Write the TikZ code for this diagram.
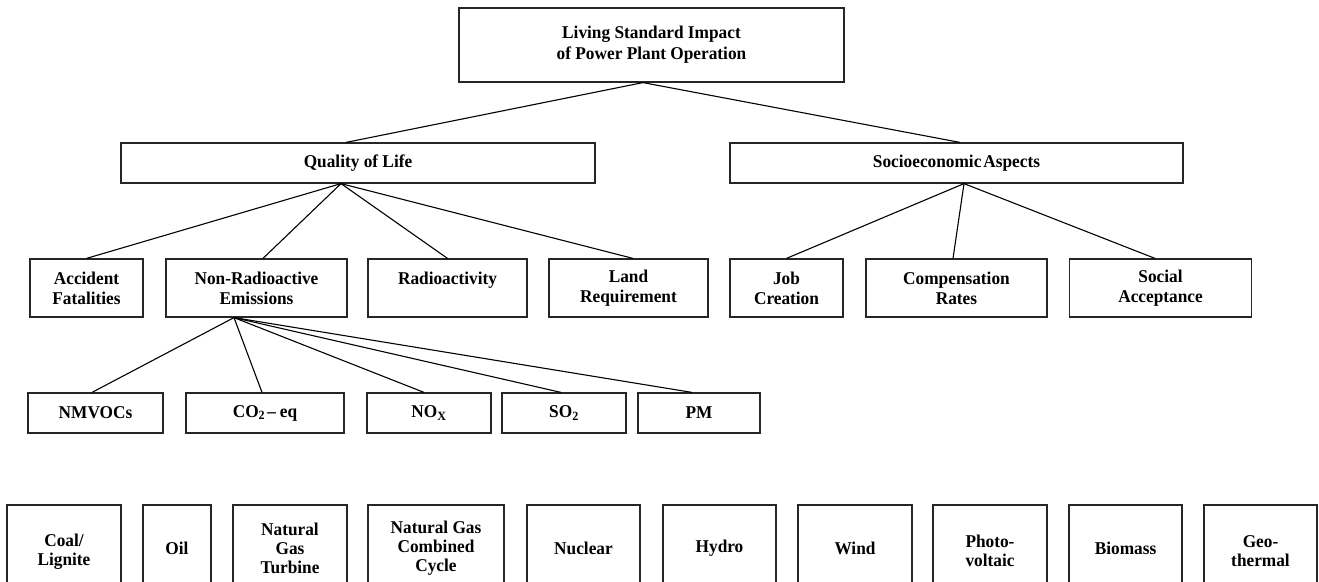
\documentclass[tikz,border=0pt]{standalone}
\usepackage{fontspec}
\setmainfont{Liberation Serif}[FakeStretch=0.96]
\begin{document}
\begin{tikzpicture}[x=1pt,y=-1pt,
  box/.style={draw=black!85, line width=1.2pt, rectangle, inner sep=0pt, align=center,
    font=\fontsize{18}{20}\selectfont\bfseries},
  tallbox/.style={box, font=\fontsize{18}{19}\selectfont\bfseries},
  link/.style={draw=black, line width=1.1pt}]
\useasboundingbox (0,0) rectangle (1319,581);
\fill[white] (0,0) rectangle (1319,581);
\clip (0,0) rectangle (1319,581);

% level 0
\node[box, minimum width=385pt, minimum height=74pt, font=\fontsize{18}{21}\selectfont\bfseries] (top) at (651.5,45)
  {Living Standard Impact\\of Power Plant Operation};
% level 1
\node[box, minimum width=474pt, minimum height=40pt] (qol) at (358,163) {Quality of Life};
\node[box, minimum width=453pt, minimum height=40pt] (soc) at (956.5,163) {Socioeconomic\kern2pt Aspects};
% level 2
\node[box, minimum width=113pt, minimum height=58pt] (acc) at (86.5,288) {Accident\\Fatalities};
\node[box, minimum width=181pt, minimum height=58pt] (nonrad) at (256.5,288) {Non-Radioactive\\Emissions};
\node[box, minimum width=159pt, minimum height=58pt] (radio) at (447.5,288) {Radioactivity\\\mbox{}};
\node[box, minimum width=159pt, minimum height=58pt] (land) at (628.5,288) {Land\\Requirement};
\node[box, minimum width=113pt, minimum height=58pt] (job) at (786.5,288) {Job\\Creation};
\node[box, minimum width=181pt, minimum height=58pt] (comp) at (956.5,288) {Compensation\\Rates};
\node[box, minimum width=182pt, minimum height=58pt] (social) at (1160.5,288) {Social\\Acceptance};
% level 3
\node[box, minimum width=135pt, minimum height=40pt] (nmvoc) at (95.5,413) {NMVOCs};
\node[box, minimum width=158pt, minimum height=40pt] (co2) at (265,413) {CO\textsubscript{2}\kern2pt--\kern4pt eq};
\node[box, minimum width=124pt, minimum height=40pt] (nox) at (429,413) {NO\textsubscript{X}};
\node[box, minimum width=124pt, minimum height=40pt] (so2) at (564,413) {SO\textsubscript{2}};
\node[box, minimum width=122pt, minimum height=40pt] (pm) at (699,413) {PM};
% technologies
\node[tallbox, minimum width=114pt, minimum height=86pt] (coal) at (64,548) {\mbox{}\\Coal/\\Lignite};
\node[tallbox, minimum width=68pt, minimum height=86pt] (oil) at (177,548) {Oil};
\node[tallbox, minimum width=114pt, minimum height=86pt] (ngt) at (290,548) {Natural\\Gas\\Turbine};
\node[tallbox, minimum width=136pt, minimum height=86pt] (ngcc) at (436,548) {Natural Gas\\Combined\\Cycle};
\node[tallbox, minimum width=113pt, minimum height=86pt] (nuclear) at (583.5,548) {Nuclear};
\node[tallbox, minimum width=113pt, minimum height=86pt] (hydro) at (719.5,548) {Hydro};
\node[tallbox, minimum width=114pt, minimum height=86pt] (wind) at (855,548) {Wind};
\node[tallbox, minimum width=114pt, minimum height=86pt] (photo) at (990,548) {\mbox{}\\Photo-\\voltaic};
\node[tallbox, minimum width=113pt, minimum height=86pt] (biomass) at (1125.5,548) {Biomass};
\node[tallbox, minimum width=113pt, minimum height=86pt] (geo) at (1260.5,548) {\mbox{}\\Geo-\\thermal};

% hubs
\coordinate (tophub) at ([xshift=-8.5pt]top.south);
\coordinate (qolhub) at ([xshift=-17pt]qol.south);
\coordinate (sochub) at ([xshift=7.5pt]soc.south);
\coordinate (nrhub) at ([xshift=-22.5pt]nonrad.south);

% connectors
\draw[link] (tophub) -- ([xshift=-12pt]qol.north);
\draw[link] (tophub) -- ([xshift=3.5pt]soc.north);
\draw[link] (qolhub) -- (acc.north);
\draw[link] (qolhub) -- ([xshift=6.5pt]nonrad.north);
\draw[link] (qolhub) -- (radio.north);
\draw[link] (qolhub) -- ([xshift=4.5pt]land.north);
\draw[link] (sochub) -- (job.north);
\draw[link] (sochub) -- ([xshift=-3.5pt]comp.north);
\draw[link] (sochub) -- ([xshift=-5.5pt]social.north);
\draw[link] (nrhub) -- ([xshift=-3.5pt]nmvoc.north);
\draw[link] (nrhub) -- ([xshift=-3pt]co2.north);
\draw[link] (nrhub) -- ([xshift=-5pt]nox.north);
\draw[link] (nrhub) -- ([xshift=-3pt]so2.north);
\draw[link] (nrhub) -- ([xshift=-7pt]pm.north);
\end{tikzpicture}
\end{document}
